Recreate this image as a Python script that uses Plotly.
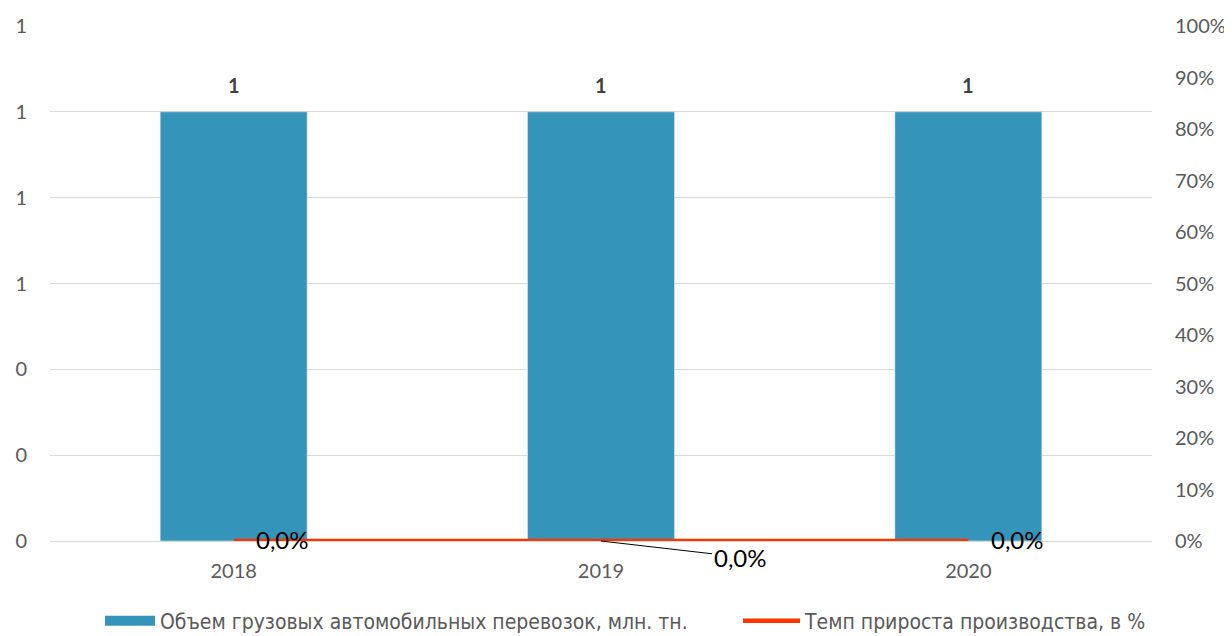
import plotly.graph_objects as go

years = ["2018", "2019", "2020"]
volume = [1, 1, 1]
growth = [0.0, 0.0, 0.0]  # percent
bar_name = "Объем грузовых автомобильных перевозок, млн. тн."
line_name = "Темп прироста производства, в %"

FONT = "Lato"
LEG_FONT = "Liberation Sans Narrow, DejaVu Sans Condensed, Lato"
GRAY = "#595959"
BLUE = "#3594BA"
RED = "#FF3300"

W, H = 1224, 628  # page adds an 8px body margin

fig = go.Figure()
fig.add_trace(go.Bar(
    x=years, y=volume, name=bar_name, marker_color=BLUE, width=0.4,
    showlegend=False, legendgroup="bar",
))
# legend swatch for the bars (wide rectangle like the original)
fig.add_trace(go.Scatter(
    x=[None], y=[None], name=bar_name, mode="lines", legendgroup="bar",
    line=dict(color=BLUE, width=14), legend="legend",
))
fig.add_trace(go.Scatter(
    x=years, y=[g / 100 for g in growth], name=line_name, mode="lines",
    line=dict(color=RED, width=4.5), yaxis="y2", legend="legend2",
))

# bar value labels (category axis -> annotation x is the category index)
for i, v in enumerate(volume):
    fig.add_annotation(x=i, y=v, xref="x", yref="y", text=f"<b>{v:.0f}</b>",
                       showarrow=False, yshift=27,
                       font=dict(family=FONT, size=20, color="#404040"))

def pct(v):
    return f"{v:.1f}%".replace(".", ",")

# line labels
offsets = [(49, -2, False), (139, 16, True), (49, -2, False)]
for i, (g, (dx, dy, arrow)) in enumerate(zip(growth, offsets)):
    if arrow:
        fig.add_annotation(x=i, y=g / 100, xref="x", yref="y2", text=pct(g),
                           showarrow=True, arrowhead=0, arrowwidth=1, arrowcolor="black",
                           ax=dx, ay=dy, standoff=0,
                           font=dict(family=FONT, size=24, color="black"))
    else:
        fig.add_annotation(x=i, y=g / 100, xref="x", yref="y2", text=pct(g),
                           showarrow=False, xshift=dx, yshift=-dy,
                           font=dict(family=FONT, size=24, color="black"))

leg_common = dict(orientation="h", xref="container", yref="container",
                  xanchor="left", yanchor="middle", y=1 - 613 / H,
                  font=dict(family=LEG_FONT, size=21, color=GRAY),
                  bgcolor="rgba(0,0,0,0)")

fig.update_layout(
    width=W, height=H,
    margin=dict(l=42, r=80, t=18, b=95),
    plot_bgcolor="white", paper_bgcolor="white",
    font=dict(family=FONT, size=20, color=GRAY),
    showlegend=True,
    legend=dict(**leg_common, x=92 / W, itemwidth=50),
    legend2=dict(**leg_common, x=730 / W, itemwidth=57),
    xaxis=dict(type="category", range=[-0.5, 2.5], showgrid=False, showline=True,
               linecolor="#D9D9D9", linewidth=1, ticks="outside", ticklen=12,
               tickcolor="rgba(0,0,0,0)", automargin=False,
               tickfont=dict(family=FONT, size=20, color=GRAY)),
    yaxis=dict(range=[0, 1.2000001], dtick=0.2, tick0=0, tickformat=".0f",
               showgrid=True, gridcolor="#D9D9D9", gridwidth=1, zeroline=False,
               ticks="outside", ticklen=18, tickcolor="rgba(0,0,0,0)", automargin=False,
               tickfont=dict(family=FONT, size=20, color=GRAY)),
    yaxis2=dict(range=[0, 1], dtick=0.1, tick0=0, tickformat=".0%", overlaying="y",
                side="right", showgrid=False, zeroline=False,
                ticks="outside", ticklen=18, tickcolor="rgba(0,0,0,0)", automargin=False,
                tickfont=dict(family=FONT, size=20, color=GRAY)),
)

fig.write_html("out.html")
